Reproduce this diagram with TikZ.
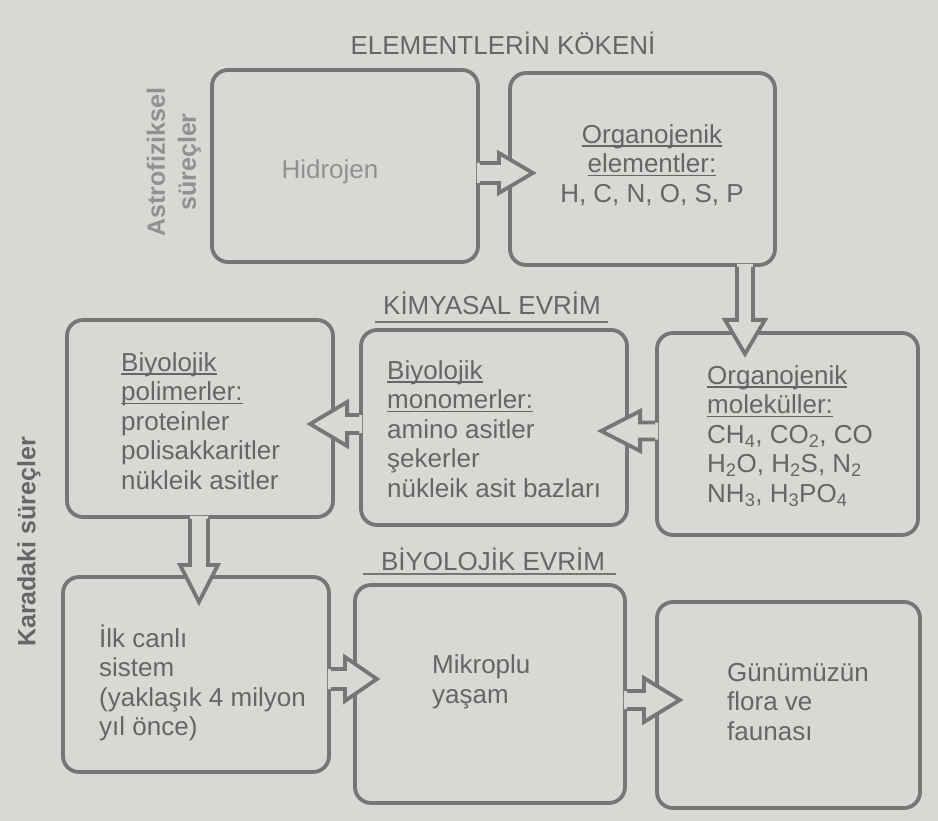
\documentclass[tikz,border=0pt]{standalone}
\usepackage{fontspec}
\setmainfont{Liberation Sans}
\usetikzlibrary{calc}
\definecolor{bgc}{RGB}{214,217,212}
\definecolor{linec}{RGB}{118,118,118}
\definecolor{txtc}{RGB}{102,102,102}
\definecolor{lightc}{RGB}{145,145,145}
\newcommand{\ulx}[1]{\setbox0\hbox{#1}\rlap{\rule[-3.5pt]{\wd0}{1.6pt}}\box0}
% block arrow: #1 start, #2 rotation, #3 shaft half width, #4 head base, #5 head half width, #6 tip
\newcommand{\barrow}[6]{%
  \begin{scope}[shift={#1}, rotate=#2]
    \fill[bgc] (-3,-#3) -- (#4,-#3) -- (#4,-#5) -- (#6,0) -- (#4,#5) -- (#4,#3) -- (-3,#3) -- cycle;
    \draw[linec, line width=3.8pt, line join=miter] (0,-#3) -- (#4,-#3) -- (#4,-#5) -- (#6,0) -- (#4,#5) -- (#4,#3) -- (0,#3);
  \end{scope}}
\begin{document}
\begin{tikzpicture}[x=1pt,y=-1pt,
  box/.style={draw=linec, line width=3.8pt, rounded corners=16pt, inner sep=0pt},
  body/.style={text=txtc, font=\fontsize{26}{29.5}\selectfont, align=left, inner sep=0pt},
  title/.style={text=txtc, font=\fontsize{26}{30}\selectfont, inner sep=0pt},
  side/.style={text=lightc, font=\fontsize{25}{31}\selectfont\bfseries, align=center, inner sep=0pt, rotate=90},
  rule/.style={draw=linec, line width=2pt}]
\fill[bgc] (0,0) rectangle (938,821);
\useasboundingbox (0,0) rectangle (938,821);

% titles
\node[title] (t1) at (503,43) {ELEMENTLERİN KÖKENİ};
\node[title] (t2) at (492,303) {KİMYASAL EVRİM};
\coordinate (u2a) at (375,322);
\coordinate (u2b) at (608,322);
\draw[rule] (u2a) -- (u2b);
\node[title] (t3) at (493,559) {BİYOLOJİK EVRİM};
\coordinate (u3a) at (363,574);
\coordinate (u3b) at (616,574);
\draw[rule] (u3a) -- (u3b);

% side labels
\node[side] (s1) at (174,162) {Astrofiziksel\\süreçler};
\node[side, text=txtc] (s2) at (29,542) {Karadaki süreçler};

% boxes
\node[box, minimum width=266pt, minimum height=192pt] (hid) at (345,166) {};
\node[box, minimum width=265pt, minimum height=192pt] (orgel) at (642.5,169) {};
\node[box, minimum width=261pt, minimum height=202pt] (orgmol) at (787.5,434) {};
\node[box, minimum width=266pt, minimum height=195pt] (mono) at (494,427.5) {};
\node[box, minimum width=266pt, minimum height=197pt] (poli) at (200,418.5) {};
\node[box, minimum width=266pt, minimum height=195pt] (ilk) at (196,674.5) {};
\node[box, minimum width=270pt, minimum height=218pt] (mik) at (490,694) {};
\node[box, minimum width=263pt, minimum height=206pt] (gun) at (788.5,705) {};

% texts
\node[body, text=lightc] (hidt) at (330,172) {Hidrojen};
\node[body, align=center] (orgelt) at (652,165) {\ulx{Organojenik}\\\ulx{elementler:}\\H, C, N, O, S, P};
\node[body, anchor=west] (orgmolt) at (707,436) {\ulx{Organojenik}\\\ulx{moleküller:}\\CH\textsubscript{4}, CO\textsubscript{2}, CO\\H\textsubscript{2}O, H\textsubscript{2}S, N\textsubscript{2}\\NH\textsubscript{3}, H\textsubscript{3}PO\textsubscript{4}};
\node[body, anchor=west] (monot) at (387,429) {\ulx{Biyolojik}\\\ulx{monomerler:}\\amino asitler\\şekerler\\nükleik asit bazları};
\node[body, anchor=west] (polit) at (121,421) {\ulx{Biyolojik}\\\ulx{polimerler:}\\proteinler\\polisakkaritler\\nükleik asitler};
\node[body, anchor=west] (ilkt) at (99,683) {İlk canlı\\sistem\\(yaklaşık 4 milyon\\yıl önce)};
\node[body, anchor=west] (mikt) at (432,682) {Mikroplu\\yaşam};
\node[body, anchor=west] (gunt) at (727,702) {Günümüzün\\flora ve\\faunası};

% block arrows
\barrow{($(hid.east)+(0,7)$)}{0}{10}{19}{20}{53}
\barrow{($(orgel.south)+(102.5,0)$)}{-90}{8}{53}{20}{87}
\barrow{($(orgmol.west)+(0,-3)$)}{180}{8.5}{15}{20}{54}
\barrow{($(mono.west)+(0,-3.5)$)}{180}{9}{12}{22}{49}
\barrow{($(poli.south)+(-1,0)$)}{-90}{9}{46}{19}{83}
\barrow{($(ilk.east)+(0,4.5)$)}{0}{10}{14}{22}{46}
\barrow{($(mik.east)+(0,6)$)}{0}{9}{17}{22}{53}
\end{tikzpicture}
\end{document}
